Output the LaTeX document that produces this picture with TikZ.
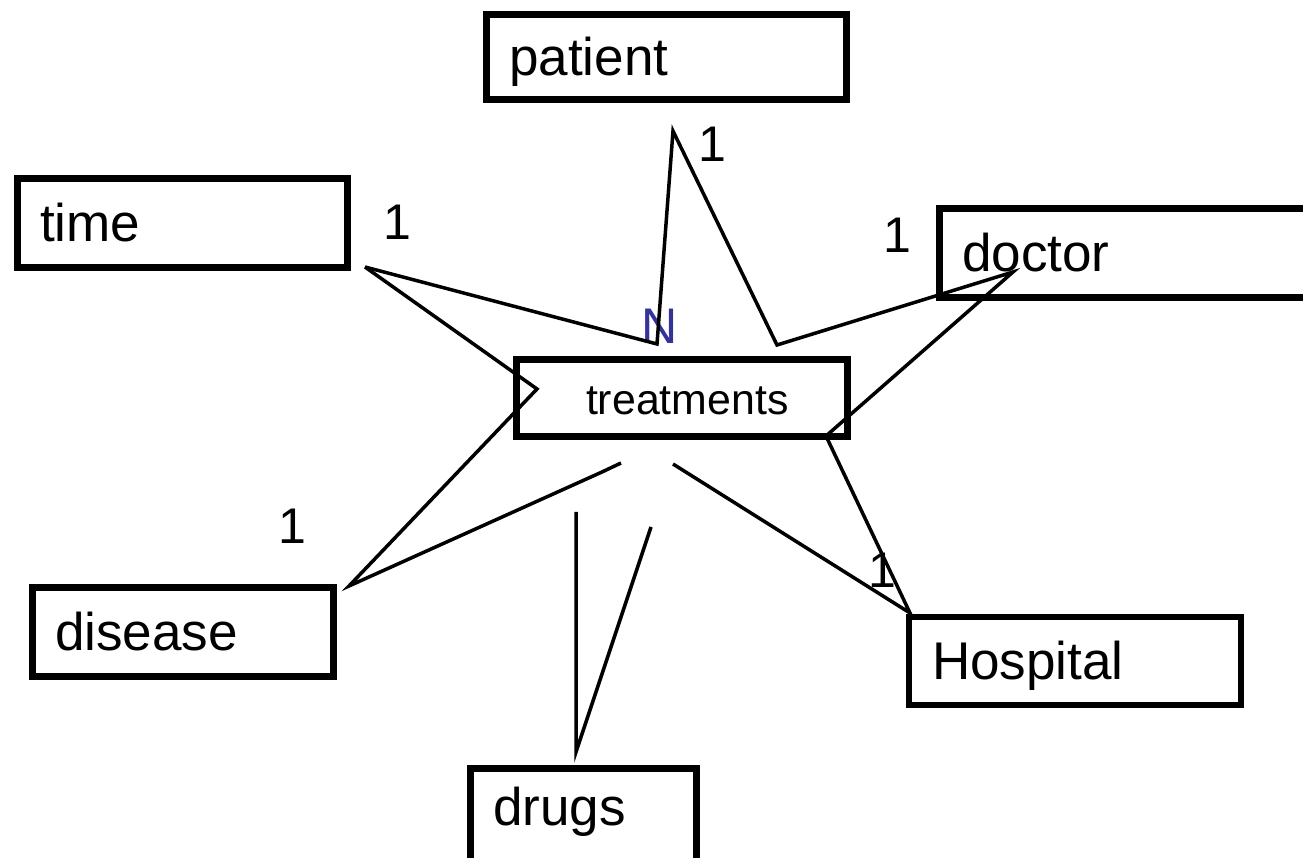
\documentclass[tikz,border=0pt]{standalone}
\usepackage{fontspec}
\setmainfont{Liberation Sans}
\usetikzlibrary{positioning}
\definecolor{azulN}{HTML}{33339A}

\begin{document}
\begin{tikzpicture}[x=0.02cm, y=-0.02cm,
    entidad/.style={draw, line width=0.14cm, rectangle, inner xsep=0.46cm, inner ysep=0pt,
      align=left, text height=0.74cm, text depth=0pt, font=\fontsize{30.2}{34}\selectfont},
    card/.style={inner sep=0pt, anchor=base, font=\fontsize{28.5}{32}\selectfont},
    enlace/.style={line width=0.07cm}]
  \useasboundingbox (0,0) rectangle (1303,858);

  % entidades
  \node[entidad, minimum width=7.22cm, minimum height=1.72cm, text width=6.30cm] (patient) at (666.5,57) {patient};
  \node[entidad, minimum width=6.62cm, minimum height=1.80cm, text width=5.70cm] (time) at (182.5,223) {time};
  \node[entidad, minimum width=7.62cm, minimum height=1.80cm, text width=6.70cm] (doctor) at (1129.5,253) {doctor};
  \node[entidad, minimum width=6.64cm, minimum height=1.56cm, inner xsep=1.40cm, text width=3.84cm,
    text height=0.68cm, font=\fontsize{24.4}{28}\selectfont] (treatments) at (682,398) {treatments};
  \node[entidad, minimum width=6.04cm, minimum height=1.80cm, text width=5.12cm] (disease) at (183,632) {disease};
  \node[entidad, line width=0.12cm, minimum width=6.64cm, minimum height=1.76cm, text width=5.72cm] (hospital) at (1075,661) {Hospital};
  \node[entidad, minimum width=4.54cm, minimum height=2.08cm, text width=3.62cm, text depth=0.54cm] (drugs) at (583.5,820) {drugs};

  % cardinalidades
  \node[card] (c-patient) at (712,162) {1};
  \node[card] (c-time) at (397,240) {1};
  \node[card] (c-doctor) at (897,253) {1};
  \node[card] (c-disease) at (292,543) {1};
  \node[card] (c-hospital) at (882,587) {1};
  \node[card, azulN] (c-n) at (660,344) {N};

  % puntos de los enlaces
  \coordinate (t-tip) at (365,267);
  \coordinate (n-foot) at (657,344);
  \coordinate (p-top) at (673,131);
  \coordinate (p-foot) at (777,345);
  \coordinate (d-tip) at (1013,272);
  \coordinate (tr-corner) at (826,436);
  \coordinate (h-tip) at (910,613);
  \coordinate (h-start) at (673,464);
  \coordinate (t-notch) at (537,389);
  \coordinate (di-tip) at (349,586);
  \coordinate (di-bend) at (602,472);
  \coordinate (di-end) at (621,463);
  \coordinate (dr-top) at (576,512);
  \coordinate (dr-tip) at (576,752);
  \coordinate (dr-end) at (651,527);

  \draw[enlace] (t-tip) -- (n-foot) -- (p-top) -- (p-foot) -- (d-tip) -- (tr-corner) -- (h-tip) -- (h-start);
  \draw[enlace] (t-tip) -- (t-notch) -- (di-tip) -- (di-bend) -- (di-end);
  \draw[enlace] (dr-top) -- (dr-tip) -- (dr-end);
\end{tikzpicture}
\end{document}
